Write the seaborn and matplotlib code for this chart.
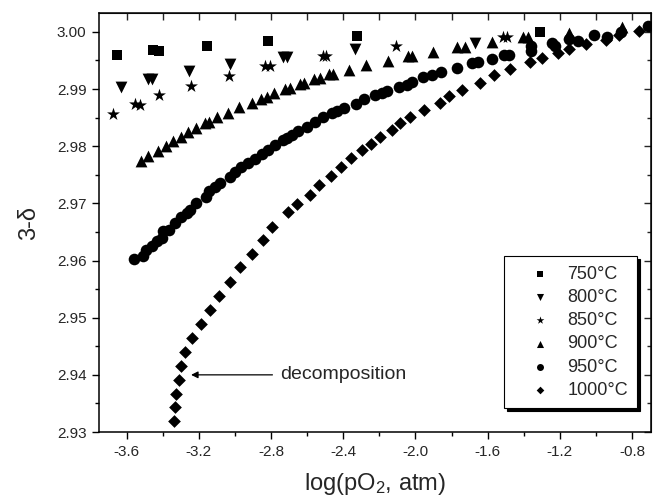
import numpy as np
import pandas as pd
import matplotlib
matplotlib.use("Agg")
import matplotlib.pyplot as plt
from matplotlib.ticker import MultipleLocator, FormatStrFormatter
import seaborn as sns

# values: log(pO2) and 3-delta for each temperature
x_750 = [-3.654, -3.454, -3.421, -3.155, -2.817, -2.324, -1.311]
y_750 = [2.99597, 2.99685, 2.99667, 2.99760, 2.99848, 2.99930, 3.00000]

x_800 = [-3.632, -3.480, -3.461, -3.253, -3.028, -2.736, -2.710, -2.335, -1.670]
y_800 = [2.99043, 2.99183, 2.99172, 2.99317, 2.99435, 2.99568, 2.99557, 2.99697, 2.99813]

x_850 = [-3.678, -3.554, -3.526, -3.419, -3.244, -3.033, -2.834, -2.806,
         -2.514, -2.496, -2.108, -1.517, -1.495]
y_850 = [2.98560, 2.98735, 2.98722, 2.98897, 2.99060, 2.99230, 2.99405, 2.99405,
         2.99580, 2.99580, 2.99755, 2.99907, 2.99907]

x_900 = [-3.522, -3.480, -3.428, -3.382, -3.342, -3.301, -3.259, -3.216, -3.166,
         -3.142, -3.101, -3.040, -2.978, -2.908, -2.858, -2.824, -2.784, -2.720,
         -2.694, -2.638, -2.617, -2.562, -2.529, -2.481, -2.455, -2.370, -2.274,
         -2.154, -2.040, -2.021, -1.901, -1.768, -1.726, -1.578, -1.403, -1.375,
         -1.148, -0.854]
y_900 = [2.97748, 2.97825, 2.97912, 2.97996, 2.98089, 2.98168, 2.98250, 2.98323,
         2.98413, 2.98430, 2.98507, 2.98588, 2.98679, 2.98752, 2.98834, 2.98862,
         2.98927, 2.98999, 2.99015, 2.99090, 2.99102, 2.99172, 2.99186, 2.99261,
         2.99261, 2.99340, 2.99428, 2.99498, 2.99580, 2.99580, 2.99655, 2.99743,
         2.99743, 2.99830, 2.99918, 2.99918, 2.99988, 3.00082]

x_950 = [-3.558, -3.510, -3.494, -3.457, -3.432, -3.406, -3.399, -3.364, -3.332,
         -3.298, -3.268, -3.249, -3.216, -3.161, -3.141, -3.111, -3.083, -3.028,
         -3.000, -2.967, -2.926, -2.889, -2.852, -2.817, -2.778, -2.736, -2.712,
         -2.684, -2.648, -2.603, -2.557, -2.511, -2.464, -2.437, -2.396, -2.330,
         -2.285, -2.224, -2.187, -2.160, -2.091, -2.045, -2.021, -1.957, -1.910,
         -1.860, -1.768, -1.689, -1.652, -1.578, -1.510, -1.480, -1.360, -1.360,
         -1.245, -1.227, -1.148, -1.098, -1.011, -0.937, -0.863, -0.710]
y_950 = [2.96033, 2.96075, 2.96190, 2.96258, 2.96342, 2.96390, 2.96512, 2.96530,
         2.96652, 2.96762, 2.96827, 2.96876, 2.97002, 2.97118, 2.97209, 2.97293,
         2.97349, 2.97468, 2.97550, 2.97629, 2.97699, 2.97783, 2.97865, 2.97935,
         2.98022, 2.98101, 2.98145, 2.98189, 2.98259, 2.98332, 2.98430, 2.98507,
         2.98577, 2.98617, 2.98665, 2.98740, 2.98822, 2.98897, 2.98927, 2.98967,
         2.99043, 2.99072, 2.99130, 2.99207, 2.99247, 2.99295, 2.99365, 2.99452,
         2.99480, 2.99522, 2.99597, 2.99597, 2.99746, 2.99667, 2.99802, 2.99755,
         2.99877, 2.99848, 2.99947, 2.99918, 3.00005, 3.00105]

x_1000 = [-3.338, -3.332, -3.329, -3.309, -3.301, -3.277, -3.240, -3.188, -3.139,
          -3.087, -3.028, -2.971, -2.908, -2.843, -2.792, -2.705, -2.654, -2.584,
          -2.535, -2.470, -2.414, -2.357, -2.298, -2.247, -2.195, -2.132, -2.084,
          -2.030, -1.955, -1.866, -1.813, -1.740, -1.641, -1.562, -1.476, -1.363,
          -1.301, -1.209, -1.148, -1.055, -0.946, -0.871, -0.760]
y_1000 = [2.93197, 2.93432, 2.93665, 2.93910, 2.94160, 2.94394, 2.94653, 2.94890,
          2.95135, 2.95380, 2.95630, 2.95879, 2.96111, 2.96355, 2.96593, 2.96841,
          2.96995, 2.97147, 2.97322, 2.97480, 2.97643, 2.97798, 2.97930, 2.98040,
          2.98168, 2.98292, 2.98399, 2.98518, 2.98640, 2.98763, 2.98873, 2.98990,
          2.99113, 2.99239, 2.99347, 2.99466, 2.99540, 2.99627, 2.99697, 2.99785,
          2.99860, 2.99947, 3.00018]

labels = ["750°C", "800°C", "850°C", "900°C", "950°C", "1000°C"]
markers = {"750°C": "s", "800°C": "v", "850°C": "*",
           "900°C": "^", "950°C": "o", "1000°C": "D"}
sizes = {"750°C": 60, "800°C": 72, "850°C": 95,
         "900°C": 72, "950°C": 70, "1000°C": 42}

xs = [x_750, x_800, x_850, x_900, x_950, x_1000]
ys = [y_750, y_800, y_850, y_900, y_950, y_1000]
df = pd.concat([pd.DataFrame({"logpO2": x, "delta": y, "T": t})
                for x, y, t in zip(xs, ys, labels)], ignore_index=True)

sns.set_style("ticks")
plt.rcParams["font.family"] = ["Liberation Sans", "DejaVu Sans"]
plt.rcParams["mathtext.fontset"] = "custom"
plt.rcParams["mathtext.rm"] = "Liberation Sans"
plt.rcParams["mathtext.it"] = "Liberation Sans:italic"

fig = plt.figure(figsize=(6.54, 5.01), dpi=100)
ax = fig.add_axes([0.1514, 0.1377, 0.844, 0.8363])

for t in labels:
    sub = df[df["T"] == t]
    sns.scatterplot(data=sub, x="logpO2", y="delta", marker=markers[t],
                    color="black", s=sizes[t], linewidth=0, ax=ax, label=t)

ax.set_xlim(-3.753, -0.695)
ax.set_ylim(2.93, 3.0033)
ax.xaxis.set_major_locator(MultipleLocator(0.4))
ax.xaxis.set_minor_locator(MultipleLocator(0.2))
ax.yaxis.set_major_locator(MultipleLocator(0.01))
ax.yaxis.set_minor_locator(MultipleLocator(0.005))
ax.xaxis.set_major_formatter(FormatStrFormatter("%.1f"))
ax.yaxis.set_major_formatter(FormatStrFormatter("%.2f"))
ax.tick_params(which="major", direction="out", length=5, width=1, labelsize=11,
               color="black", pad=4)
ax.tick_params(which="minor", direction="out", length=3, width=1, color="black")
for sp in ax.spines.values():
    sp.set_color("black")
    sp.set_linewidth(1.1)

# mirror ticks on top and right, pointing inward
top = ax.secondary_xaxis("top")
top.xaxis.set_major_locator(MultipleLocator(0.2))
top.tick_params(direction="in", length=5, width=1, labeltop=False)
right = ax.secondary_yaxis("right")
right.yaxis.set_major_locator(MultipleLocator(0.01))
right.yaxis.set_minor_locator(MultipleLocator(0.005))
right.tick_params(which="major", direction="in", length=5, width=1, labelright=False)
right.tick_params(which="minor", direction="in", length=3, width=1)

ax.set_xlabel(r"log(pO$_2$, atm)", fontsize=17, labelpad=9)
ax.set_ylabel("3-δ", fontsize=17, labelpad=12)

ax.annotate("decomposition", xy=(-3.243, 2.940), xytext=(-2.751, 2.940),
            fontsize=14, va="center", ha="left",
            arrowprops=dict(arrowstyle="-|>", color="black", lw=0.9,
                            mutation_scale=10, shrinkA=3, shrinkB=0))

leg = ax.legend(loc="lower right", bbox_to_anchor=(0.975, 0.057), borderaxespad=0,
                fontsize=13, frameon=True, fancybox=False,
                shadow={"color": "black", "alpha": 1},
                handlelength=2.9, handletextpad=0.1, labelspacing=0.35,
                borderpad=0.5, markerscale=0.6)
leg.get_frame().set_edgecolor("black")
leg.get_frame().set_linewidth(0.8)
leg.get_frame().set_alpha(1)

fig.savefig("out.png", dpi=100)
